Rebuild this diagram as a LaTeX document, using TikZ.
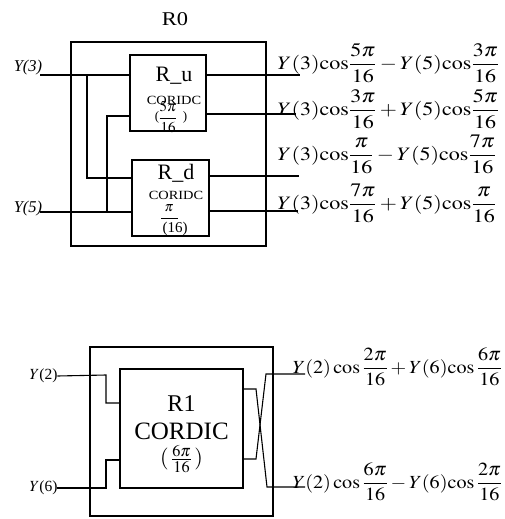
\documentclass[tikz,border=0pt]{standalone}
\usepackage{mathptmx}
\usepackage{fontspec}
\setmainfont{Liberation Serif}
\newcommand{\xs}[2]{\scalebox{#1}[1]{#2}}
\begin{document}
\begin{tikzpicture}[x=1pt,y=-1pt, line width=1.1pt,
  box/.style={draw, rectangle, inner sep=0pt, line width=1.1pt},
  txt/.style={inner sep=0pt, outer sep=0pt},
  expr/.style={inner sep=0pt, anchor=west, font=\fontsize{19}{23}\selectfont},
  exprb/.style={inner sep=0pt, anchor=west, font=\fontsize{18.5}{22}\selectfont},
  wire/.style={line width=1.1pt}]
\useasboundingbox (0,0) rectangle (504,519);
% ---------------- top: R0 ----------------
\node[txt, font=\fontsize{19.5}{23}\selectfont] (r0lbl) at (175,19) {\xs{1.15}{R0}};
\node[box, minimum width=195pt, minimum height=204pt] (r0) at (168.5,144) {};
\node[box, minimum width=76pt, minimum height=76pt] (ru) at (168,93) {};
\node[box, minimum width=77pt, minimum height=76pt] (rd) at (170.5,198) {};
% texts in R_u
\node[txt, font=\fontsize{22}{26}\selectfont] (rut) at (174,76) {R\_u};
\node[txt, font=\fontsize{12.5}{14}\selectfont] (ruc) at (174,100) {\xs{1.15}{CORIDC}};
\node[txt, font=\fontsize{15}{18}\selectfont] (ruf) at (168,117) {$\displaystyle\frac{5\pi}{16}$};
\node[txt, font=\fontsize{13}{15}\selectfont] (rul) at (157,117) {(};
\node[txt, font=\fontsize{13}{15}\selectfont] (rur) at (185,117) {)};
% texts in R_d
\node[txt, font=\fontsize{22}{26}\selectfont] (rdt) at (176,173) {R\_d};
\node[txt, font=\fontsize{12.5}{14}\selectfont] (rdc) at (176,195) {\xs{1.15}{CORIDC}};
\node[txt, font=\fontsize{14}{16}\selectfont] (rdp) at (169,208) {$\pi$};
\node[txt, font=\fontsize{15}{17}\selectfont] (rdn) at (175,229) {(16)};
\draw[line width=0.7pt] (161,218) -- (178,218);
% inputs
\node[txt, font=\fontsize{16.5}{19}\selectfont\itshape] (y3) at (28,68) {Y(3)};
\node[txt, font=\fontsize{16.5}{19}\selectfont\itshape] (y5) at (28,209) {Y(5)};
\coordinate (in3) at (40,75);
\coordinate (in5) at (40,212);
\coordinate (b3) at (87,75);
\coordinate (b5) at (107,212);
\coordinate (rdin1) at (132,178);
\coordinate (ruin2) at (130,116);
\draw[wire] (in3) -- (in3 -| ru.west);
\draw[wire] (in5) -- (in5 -| rd.west);
\draw[wire] (b3) |- (rdin1);
\draw[wire] (b5) |- (ruin2);
% outputs
\coordinate (o1) at (300,75);
\coordinate (o2) at (296,114);
\coordinate (o3) at (299,176);
\coordinate (o4) at (298,211);
\draw[wire] (o1 -| ru.east) -- (o1);
\draw[wire] (o2 -| ru.east) -- (o2);
\draw[wire] (o3 -| rd.east) -- (o3);
\draw[wire] (o4 -| rd.east) -- (o4);
% expressions
\node[expr] (e1) at (277,63) {\xs{1.16}{$\displaystyle Y(3)\mathrm{cos}\frac{5\pi}{16}-Y(5)\mathrm{cos}\frac{3\pi}{16}$}};
\node[expr] (e2) at (277,109) {\xs{1.16}{$\displaystyle Y(3)\mathrm{cos}\frac{3\pi}{16}+Y(5)\mathrm{cos}\frac{5\pi}{16}$}};
\node[expr] (e3) at (277,154) {\xs{1.16}{$\displaystyle Y(3)\mathrm{cos}\frac{\pi}{16}-Y(5)\mathrm{cos}\frac{7\pi}{16}$}};
\node[expr] (e4) at (277,203) {\xs{1.16}{$\displaystyle Y(3)\mathrm{cos}\frac{7\pi}{16}+Y(5)\mathrm{cos}\frac{\pi}{16}$}};
% ---------------- bottom: R1 ----------------
\node[box, minimum width=183pt, minimum height=169pt] (r1o) at (181.5,431.5) {};
\node[box, minimum width=123pt, minimum height=119pt] (r1) at (181.5,428.5) {};
\node[txt, font=\fontsize{24}{28}\selectfont] (r1t) at (181.5,404) {R1};
\node[txt, font=\fontsize{25}{29}\selectfont] (r1c) at (181.5,431) {CORDIC};
\node[txt, font=\fontsize{22}{26}\selectfont] (r1f) at (181.5,459) {$(\,\frac{6\pi}{16}\,)$};
\node[txt, font=\fontsize{15.5}{18}\selectfont] (y2) at (43.5,376) {$Y$(2)};
\node[txt, font=\fontsize{15.5}{18}\selectfont] (y6) at (43.5,488) {$Y$(6)};
\draw[wire] (y2.east) -- (106,375) -- (106,403) -- (r1.west |- 0,403);
\draw[wire] (y6.east) -- (106,488) -- (106,460) -- (r1.west |- 0,460);
\coordinate (ob1) at (305,374);
\coordinate (ob2) at (305,487);
\draw[wire] (r1.east |- 0,389) -- (256,389) -- (267,487) -- (ob2);
\draw[wire] (r1.east |- 0,459) -- (256,459) -- (266,374) -- (ob1);
\node[exprb] (e5) at (292,367) {\xs{1.09}{$\displaystyle Y(2)\,\mathrm{cos}\,\frac{2\pi}{16}+Y(6)\mathrm{cos}\,\frac{6\pi}{16}$}};
\node[exprb] (e6) at (292,482) {\xs{1.09}{$\displaystyle Y(2)\,\mathrm{cos}\,\frac{6\pi}{16}-Y(6)\mathrm{cos}\,\frac{2\pi}{16}$}};
\end{tikzpicture}
\end{document}
